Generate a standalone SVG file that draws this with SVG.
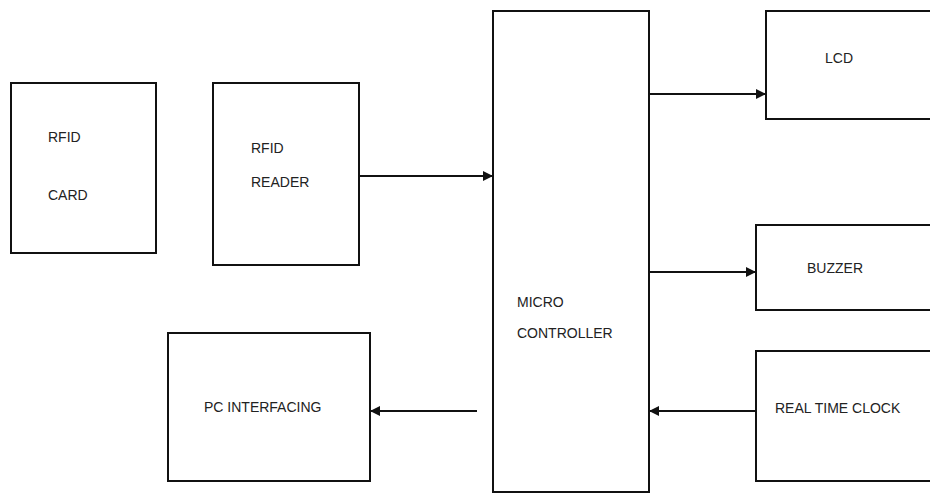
<svg xmlns="http://www.w3.org/2000/svg" width="930" height="493" viewBox="0 0 930 493">
<defs>
<style>
.box{fill:#fff;stroke:#111;stroke-width:2}
.lbl{font-family:"Liberation Sans",Arial,sans-serif;font-size:14px;fill:#222}
.conn{stroke:#111;stroke-width:2;fill:none}
</style>
<marker id="ah" viewBox="0 0 10 10" refX="10" refY="5" markerWidth="10" markerHeight="10" markerUnits="userSpaceOnUse" orient="auto">
<path d="M0,0 L10,5 L0,10 z" fill="#111"/>
</marker>
</defs>
<rect width="930" height="493" fill="#fff"/>
<g id="rfid-card">
<rect class="box" x="11" y="83" width="145" height="170"/>
<text class="lbl" x="48" y="142">RFID</text>
<text class="lbl" x="48" y="200">CARD</text>
</g>
<g id="rfid-reader">
<rect class="box" x="213" y="83" width="146" height="182"/>
<text class="lbl" x="251" y="153">RFID</text>
<text class="lbl" x="251" y="187">READER</text>
</g>
<g id="micro">
<rect class="box" x="493" y="11" width="156" height="481"/>
<text class="lbl" x="517" y="307">MICRO</text>
<text class="lbl" x="517" y="338">CONTROLLER</text>
</g>
<g id="lcd">
<rect class="box" x="766" y="11" width="170" height="108"/>
<text class="lbl" x="825" y="63">LCD</text>
</g>
<g id="buzzer">
<rect class="box" x="756" y="225" width="180" height="85"/>
<text class="lbl" x="807" y="273">BUZZER</text>
</g>
<g id="pc">
<rect class="box" x="168" y="333" width="202" height="148"/>
<text class="lbl" x="204" y="412">PC INTERFACING</text>
</g>
<g id="rtc">
<rect class="box" x="756" y="351" width="180" height="130"/>
<text class="lbl" x="775" y="413">REAL TIME CLOCK</text>
</g>
<g id="connectors">
<line class="conn" x1="359" y1="176" x2="493" y2="176" marker-end="url(#ah)"/>
<line class="conn" x1="649" y1="94" x2="766" y2="94" marker-end="url(#ah)"/>
<line class="conn" x1="649" y1="272" x2="756" y2="272" marker-end="url(#ah)"/>
<line class="conn" x1="477" y1="411" x2="370" y2="411" marker-end="url(#ah)"/>
<line class="conn" x1="756" y1="411" x2="649" y2="411" marker-end="url(#ah)"/>
</g>
</svg>
